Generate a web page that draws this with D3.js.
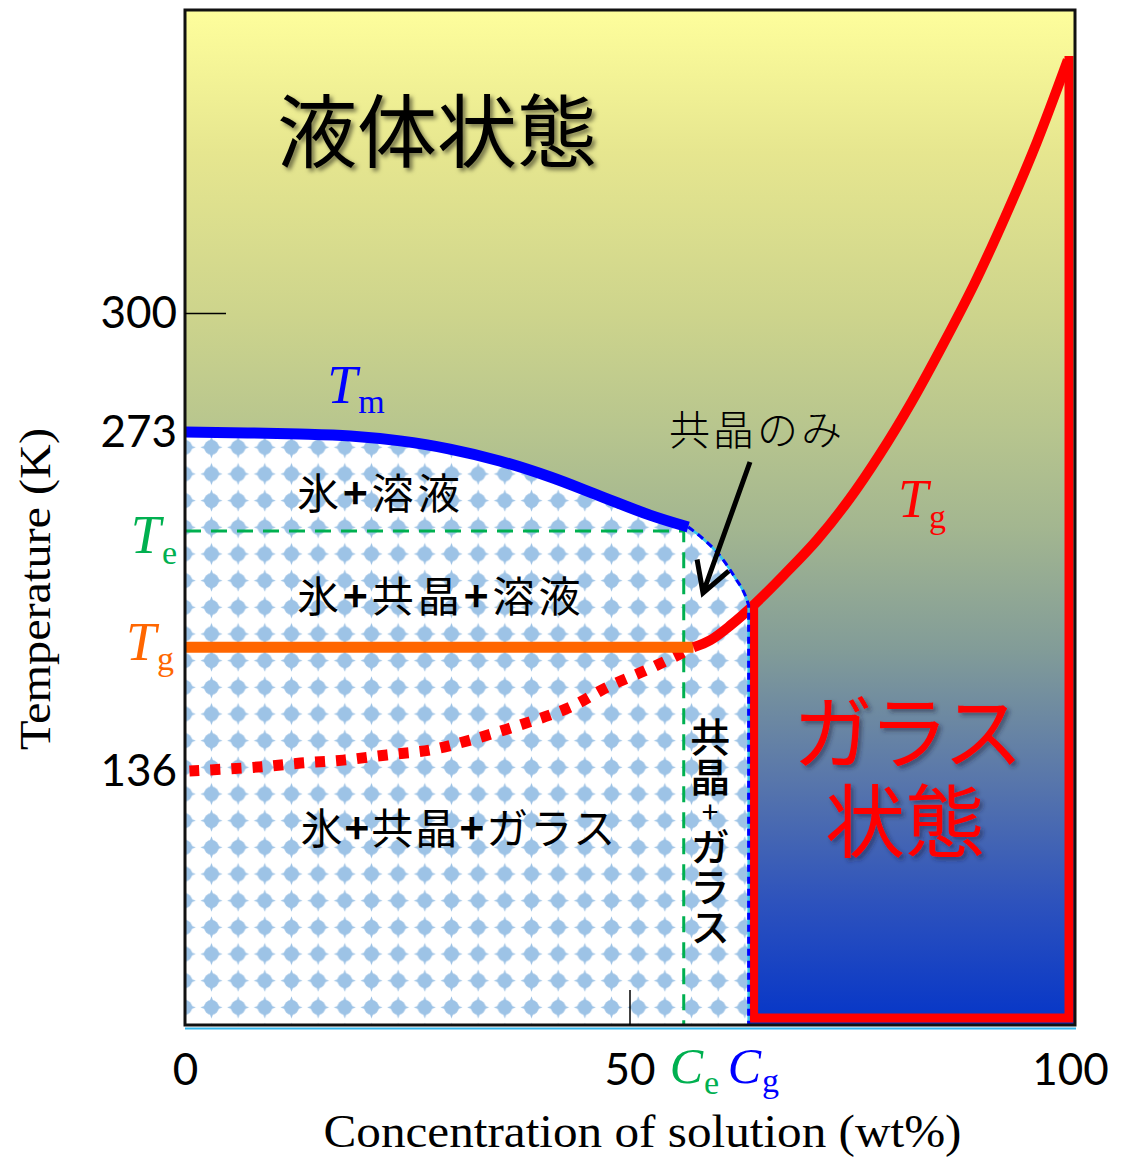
<!DOCTYPE html>
<html>
<head>
<meta charset="utf-8">
<script src="https://cdn.jsdelivr.net/npm/d3@7"></script>
<style>
  body { margin: 0; background: #ffffff; }
  svg { display: block; }
</style>
</head>
<body>
<svg id="chart" width="1121" height="1169"></svg>
<script>
// ---- data (concentration in wt%, temperature in K) ----
const xTicks = [0, 50, 100];
const yTicks = [136, 273, 300];
const Ce = 56.1;          // eutectic concentration
const Cg = 63.4;          // concentration where the glass curve meets the liquidus
const Te = 233;           // eutectic temperature
const TgPrime = 186;      // glass transition of the freeze-concentrated phase

// liquidus of ice (thick part, above Te)
const tmCurve = [[0, 273], [12.9, 272.2], [18.6, 271.4], [24.2, 269.4], [29.8, 266.1],
                 [35.4, 261.3], [41.1, 254.8], [46.7, 247.1], [52.3, 239.4], [56.6, 234.6]];
// metastable continuation below Te down to Cg
const tmTail = [[56.6, 234.6], [57.9, 231.0], [60.2, 222.9], [61.9, 214.0], [63.0, 207.1], [63.4, 203.1]];
// glass transition curve of the solution
const tgCurve = [[57.2, 186], [59.1, 188.9], [61.4, 195], [64.1, 203.5], [67.4, 215.3],
                 [71.1, 229.4], [74.7, 245.7], [78.2, 264.2], [81.7, 279.7], [85.2, 292.6],
                 [88.8, 306.7], [92.3, 322.1], [95.8, 338.8], [99.3, 357.6]];
// glass transition of the unfrozen part in the ice matrix
const tgIce = [[0.5, 136], [8.2, 137.6], [13, 139.2], [17.8, 140.4], [22.7, 142.5], [27.6, 144.5],
               [32.1, 148.5], [37.7, 154.6], [43.4, 161.9], [47.5, 169.9], [52.4, 177.6], [57.2, 186]];

// ---- scales ----
const plot = { left: 185, right: 1074, top: 10, bottom: 1025 };
const x = d3.scaleLinear().domain([0, 100]).range([plot.left, plot.right]);
// schematic temperature axis: piecewise linear
const y = d3.scaleLinear().domain([33, 136, 273, 300, 369]).range([plot.bottom, 771, 432, 313, plot.top]);

const svg = d3.select("#chart");
const defs = svg.append("defs");

// background gradient: liquid (yellow) to glass (blue)
const grad = defs.append("linearGradient").attr("id", "bg")
  .attr("x1", 0).attr("y1", 0).attr("x2", 0).attr("y2", 1);
[[0, "#fefe9c"], [0.14, "#e6e68f"], [0.30, "#cdd48c"], [0.415, "#b7c58e"], [0.51, "#a3b690"],
 [0.63, "#829c98"], [0.76, "#5876ab"], [0.88, "#2d52bd"], [1, "#0535c8"]]
  .forEach(([o, c]) => grad.append("stop").attr("offset", o).attr("stop-color", c));

// dotted ice pattern
const pat = defs.append("pattern").attr("id", "ice")
  .attr("patternUnits", "userSpaceOnUse")
  .attr("x", 11.45).attr("y", 7.25).attr("width", 26.67).attr("height", 26.67);
pat.append("rect").attr("width", 26.67).attr("height", 26.67).attr("fill", "#ffffff");
const cx = 13.33, cy = 13.33;
pat.append("circle").attr("cx", cx).attr("cy", cy).attr("r", 7.4).attr("fill", "#9dc3e6");
pat.append("path").attr("fill", "#9dc3e6")
  .attr("d", `M${cx},${cy - 11} L${cx + 3},${cy - 3} L${cx + 11},${cy} L${cx + 3},${cy + 3} L${cx},${cy + 11} L${cx - 3},${cy + 3} L${cx - 11},${cy} L${cx - 3},${cy - 3}Z`);

// text shadows
const sh1 = defs.append("filter").attr("id", "shadowDark").attr("x", "-10%").attr("y", "-20%").attr("width", "130%").attr("height", "150%");
sh1.append("feDropShadow").attr("dx", 3).attr("dy", 3).attr("stdDeviation", 2.2).attr("flood-color", "#000").attr("flood-opacity", 0.5);
const sh2 = defs.append("filter").attr("id", "shadowRed").attr("x", "-10%").attr("y", "-20%").attr("width", "130%").attr("height", "150%");
sh2.append("feDropShadow").attr("dx", 3).attr("dy", 3).attr("stdDeviation", 2).attr("flood-color", "#1a1a3a").attr("flood-opacity", 0.5);

// background
svg.append("rect").attr("x", plot.left).attr("y", plot.top)
  .attr("width", plot.right - plot.left + 1).attr("height", plot.bottom - plot.top)
  .attr("fill", "url(#bg)");

// ice region (below the liquidus, left of Cg)
const iceArea = d3.area()
  .x(d => x(d[0])).y0(plot.bottom).y1(d => y(d[1]))
  .curve(d3.curveMonotoneX);
const iceData = tmCurve.concat(tmTail.slice(1));
svg.append("path").attr("d", iceArea(iceData)).attr("fill", "url(#ice)");

// eutectic guide lines
svg.append("path")
  .attr("d", `M${x(0)},${y(Te)} H${x(Ce)} V${plot.bottom}`)
  .attr("fill", "none").attr("stroke", "#00b050").attr("stroke-width", 3)
  .attr("stroke-dasharray", "16,10");

const line = d3.line().x(d => x(d[0])).y(d => y(d[1]));

// dotted Tg curve inside the ice matrix
svg.append("path").attr("d", line.curve(d3.curveCatmullRom)(tgIce))
  .attr("fill", "none").attr("stroke", "#ff0000").attr("stroke-width", 11)
  .attr("stroke-dasharray", "10,11");

// Tg' horizontal
svg.append("path").attr("d", `M${x(0)},${y(TgPrime)} H${x(tgCurve[0][0])}`)
  .attr("fill", "none").attr("stroke", "#ff6600").attr("stroke-width", 11);

// glass state outline (inset by half the stroke)
const inset = 5;
const tgTop = tgCurve[tgCurve.length - 1];
const junction = tgCurve[3];
svg.append("path")
  .attr("d", `M${x(Cg) + inset},${y(junction[1])} V${plot.bottom - 7} H${plot.right - inset} V${y(tgTop[1]) - 4}`)
  .attr("fill", "none").attr("stroke", "#ff0000").attr("stroke-width", 9)
  .attr("stroke-linejoin", "miter");

// Tg curve
svg.append("path").attr("d", line.curve(d3.curveCatmullRom)(tgCurve))
  .attr("fill", "none").attr("stroke", "#ff0000").attr("stroke-width", 10)
  .attr("stroke-linecap", "butt");

// liquidus tail and Cg boundary (thin cyan with blue dashes)
const tailPath = line.curve(d3.curveMonotoneX)(tmTail) + `V${plot.bottom}`;
svg.append("path").attr("d", tailPath).attr("fill", "none").attr("stroke", "#33c4f0").attr("stroke-width", 2.5);
svg.append("path").attr("d", tailPath).attr("fill", "none").attr("stroke", "#0000ff").attr("stroke-width", 3)
  .attr("stroke-dasharray", "7,5");

// liquidus Tm
svg.append("path").attr("d", line.curve(d3.curveCatmullRom)(tmCurve))
  .attr("fill", "none").attr("stroke", "#0000ff").attr("stroke-width", 11);

// frame
svg.append("line").attr("x1", plot.left).attr("x2", plot.right + 2).attr("y1", plot.bottom + 3.5).attr("y2", plot.bottom + 3.5)
  .attr("stroke", "#33b8ee").attr("stroke-width", 2);
svg.append("rect").attr("x", plot.left).attr("y", plot.top)
  .attr("width", plot.right - plot.left + 1).attr("height", plot.bottom - plot.top)
  .attr("fill", "none").attr("stroke", "#111").attr("stroke-width", 3);

// axes
const yAxis = svg.append("g").attr("transform", `translate(${plot.left},0)`)
  .call(d3.axisLeft(y).tickValues(yTicks).tickFormat(d3.format("d"))
    .tickSizeInner(-41).tickSizeOuter(0).tickPadding(9));
yAxis.select(".domain").remove();
yAxis.selectAll(".tick line").attr("stroke", "#000").attr("stroke-width", 1.5)
  .filter(d => d !== 300).remove();
yAxis.selectAll(".tick text").attr("font-family", "Lato, 'Open Sans', sans-serif")
  .attr("font-size", 44).attr("fill", "#000").attr("x", -8);

const xAxis = svg.append("g").attr("transform", `translate(0,${plot.bottom})`)
  .call(d3.axisBottom(x).tickValues(xTicks).tickFormat(d3.format("d"))
    .tickSizeInner(-35).tickSizeOuter(0).tickPadding(29));
xAxis.select(".domain").remove();
xAxis.selectAll(".tick line").attr("stroke", "#000").attr("stroke-width", 1.5)
  .filter(d => d !== 50).remove();
xAxis.selectAll(".tick text").attr("font-family", "Lato, 'Open Sans', sans-serif")
  .attr("font-size", 44).attr("fill", "#000");
xAxis.selectAll(".tick text").filter(d => d === 100).attr("dx", -4);

// axis titles
svg.append("text").attr("transform", `translate(50,${(428 + 750) / 2}) rotate(-90)`)
  .attr("text-anchor", "middle").attr("font-family", "'Liberation Serif', 'DejaVu Serif', serif")
  .attr("font-size", 44).attr("fill", "#000")
  .attr("textLength", 322).attr("lengthAdjust", "spacingAndGlyphs")
  .text("Temperature (K)");
svg.append("text").attr("x", (323 + 962) / 2).attr("y", 1147)
  .attr("text-anchor", "middle").attr("font-family", "'Liberation Serif', 'DejaVu Serif', serif")
  .attr("font-size", 46).attr("fill", "#000")
  .attr("textLength", 638).attr("lengthAdjust", "spacingAndGlyphs")
  .text("Concentration of solution (wt%)");

// subscripted symbols
function symbol(px, py, main, sub, color, anchor, subDy, size = 54, subSize = 34) {
  const t = svg.append("text").attr("x", px).attr("y", py).attr("text-anchor", anchor)
    .attr("font-family", "'Liberation Serif', 'DejaVu Serif', serif").attr("fill", color);
  t.append("tspan").attr("font-style", "italic").attr("font-size", size).text(main);
  t.append("tspan").attr("font-size", subSize).attr("dy", subDy).attr("dx", 1).text(sub);
  return t;
}
symbol(177, y(Te) + 22, "T", "e", "#00b050", "end", 11);
symbol(174, y(TgPrime) + 13, "T", "g", "#ff6600", "end", 10);
symbol(x(Ce) - 14, 1083, "C", "e", "#00b050", "start", 11, 50, 34);
symbol(x(Cg) - 21, 1083, "C", "g", "#0000ff", "start", 9, 50, 34);
symbol(x(16), 403, "T", "m", "#0000ff", "start", 10);
symbol(x(80.2), 517, "T", "g", "#ff0000", "start", 11);

// region labels ("+" drawn heavier)
const jp = "'Noto Sans CJK JP', 'Noto Sans CJK SC', sans-serif";
function region(px, py, str, spacing) {
  const t = svg.append("text").attr("x", px).attr("y", py).attr("dominant-baseline", "central")
    .attr("font-family", jp).attr("font-size", 42).attr("letter-spacing", spacing).attr("fill", "#000");
  str.split(/(\+)/).forEach(part => {
    t.append("tspan").attr("font-weight", part === "+" ? 700 : 400).text(part);
  });
}
region(x(12.6), 490, "氷+溶液", 4);
region(x(12.6), 593, "氷+共晶+溶液", 4);
region(x(13), 825, "氷+共晶+ガラス", 2);

// vertical label between Ce and Cg
const vt = svg.append("text").attr("x", (x(Ce) + x(Cg)) / 2 - 6).attr("y", 717)
  .attr("font-family", jp).attr("font-size", 40).attr("fill", "#000")
  .style("writing-mode", "vertical-rl").style("text-orientation", "upright");
vt.append("tspan").attr("font-weight", 500).text("共晶");
vt.append("tspan").attr("font-size", 30).text("+");
vt.append("tspan").attr("font-weight", 500).text("ガラス");

// annotation: eutectic only
svg.append("text").attr("x", 757).attr("y", 427).attr("text-anchor", "middle")
  .attr("dominant-baseline", "central").attr("font-family", jp).attr("font-size", 41)
  .attr("letter-spacing", 3).attr("font-weight", 300).attr("fill", "#000").text("共晶のみ");
const tail = [750, 462], tip = [703, 593];
const ang = Math.atan2(tail[1] - tip[1], tail[0] - tip[0]);
const arm = 34, spread = 0.52;
const a1 = [tip[0] + arm * Math.cos(ang + spread), tip[1] + arm * Math.sin(ang + spread)];
const a2 = [tip[0] + arm * Math.cos(ang - spread), tip[1] + arm * Math.sin(ang - spread)];
svg.append("path").attr("d", `M${tail}L${tip}M${a1}L${tip}L${a2}`)
  .attr("fill", "none").attr("stroke", "#000").attr("stroke-width", 5)
  .attr("stroke-linejoin", "miter").attr("stroke-linecap", "butt");

// state titles
svg.append("text").attr("x", 437).attr("y", 126).attr("text-anchor", "middle")
  .attr("dominant-baseline", "central").attr("font-family", jp).attr("font-size", 80)
  .attr("font-weight", 400).attr("fill", "#000").attr("filter", "url(#shadowDark)")
  .text("液体状態");
const glass = svg.append("text").attr("text-anchor", "middle")
  .attr("dominant-baseline", "central").attr("font-family", jp).attr("font-size", 80)
  .attr("fill", "#ff0000").attr("filter", "url(#shadowRed)");
glass.append("tspan").attr("x", 906).attr("y", 727).attr("letter-spacing", -4).text("ガラス");
glass.append("tspan").attr("x", 905).attr("y", 816).text("状態");
</script>
</body>
</html>
